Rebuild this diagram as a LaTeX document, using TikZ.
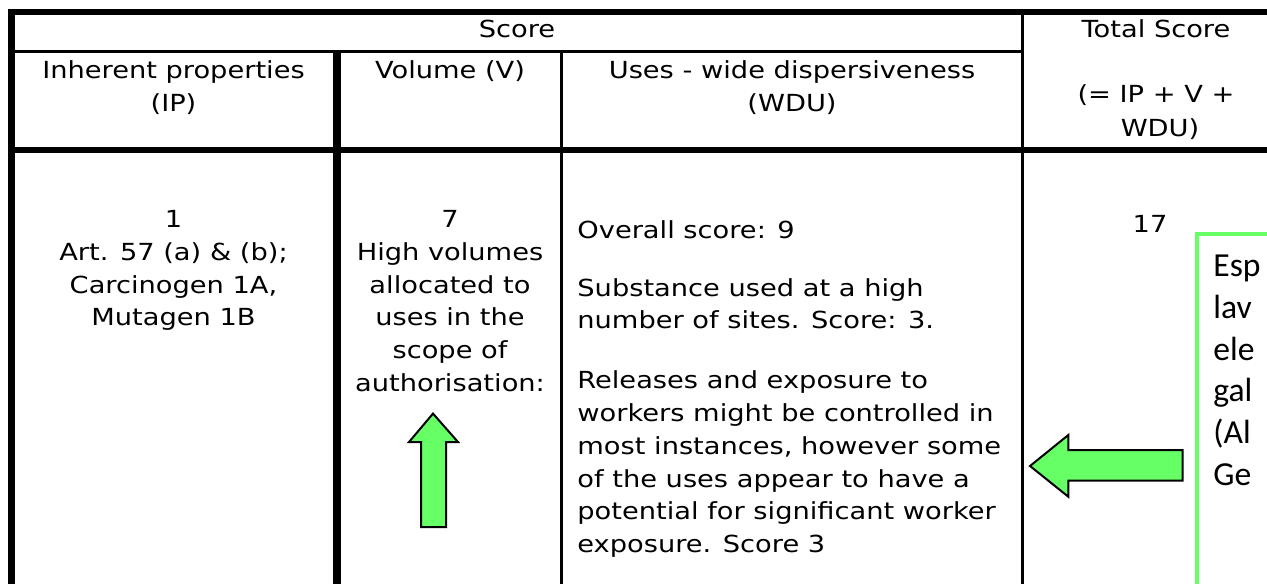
\documentclass[tikz,border=0pt]{standalone}
\usepackage{fontspec}
\newfontfamily\tabfont[FakeStretch=1.16]{DejaVu Sans}
\newfontfamily\notefont{Carlito}
\newcommand\tabtext{\tabfont\fontsize{11.75pt}{16.35pt}\selectfont}
\newcommand\notetext{\notefont\fontsize{16.8pt}{20.9pt}\selectfont}
\definecolor{notegreen}{HTML}{66FF66}
\tikzset{
  thickrule/.style={line width=3pt},
  heavyrule/.style={line width=4pt},
  thinrule/.style={line width=1.5pt},
  cell/.style={font=\tabtext, inner sep=0pt, anchor=base, text=black},
  lcell/.style={cell, anchor=base west},
  noteline/.style={font=\notetext, inner sep=0pt, anchor=base west, text=black},
  notebox/.style={draw=notegreen, line width=2pt, fill=white},
  fatarrow/.style={fill=notegreen, draw=black, line width=1pt, line join=miter}
}
\begin{document}
\begin{tikzpicture}[x=0.5pt,y=-0.5pt]
\useasboundingbox (0,0) rectangle (1267,583);
\clip (0,0) rectangle (1267,583);
\fill[white] (0,0) rectangle (1267,583);

% table frame and rules
\draw[thickrule] (8,12) -- (1300,12);
\draw[line width=3.5pt] (11.5,9) -- (11.5,600);
\draw[thinrule] (11.5,51.5) -- (1022.7,51.5);
\draw[thickrule] (11.5,150) -- (1300,150);
\draw[heavyrule] (336.5,51.5) -- (336.5,600);
\draw[thinrule] (561.7,51.5) -- (561.7,600);
\draw[thinrule] (1022.7,12) -- (1022.7,600);

% header
\node[cell] (score) at (517,38) {Score};
\node[cell] (total) at (1156,38) {Total Score};
\node[cell] (ip1) at (173.5,79) {Inherent properties};
\node[cell] (ip2) at (173.5,112) {(IP)};
\node[cell] (vol) at (450,79) {Volume (V)};
\node[cell] (wdu1) at (792,79) {Uses - wide dispersiveness};
\node[cell] (wdu2) at (792,112) {(WDU)};
\node[cell] (sum1) at (1156,103) {(= IP + V +};
\node[cell] (sum2) at (1160,136) {WDU)};

% inherent properties cell
\node[cell] (ipa) at (173.5,227) {1};
\node[cell] (ipb) at (173.5,260) {Art. 57 (a) \& (b);};
\node[cell] (ipc) at (173.5,293) {Carcinogen 1A,};
\node[cell] (ipd) at (173.5,325.5) {Mutagen 1B};

% volume cell
\node[cell] (va) at (450,227) {7};
\node[cell] (vb) at (450,260) {High volumes};
\node[cell] (vc) at (450,293) {allocated to};
\node[cell] (vd) at (450,325.5) {uses in the};
\node[cell] (ve) at (450,358) {scope of};
\node[cell] (vf) at (450,391) {authorisation:};

% wide dispersive use cell
\node[lcell] (wa) at (577,238) {Overall score: 9};
\node[lcell] (wb) at (577,296) {Substance used at a high};
\node[lcell] (wc) at (577,328.5) {number of sites. Score: 3.};
\node[lcell] (wd) at (577,388) {Releases and exposure to};
\node[lcell] (we) at (577,421) {workers might be controlled in};
\node[lcell] (wf) at (577,454) {most instances, however some};
\node[lcell] (wg) at (577,487) {of the uses appear to have a};
\node[lcell] (wh) at (577,519.5) {potential for significant worker};
\node[lcell] (wi) at (577,552) {exposure. Score 3};

% total
\node[cell] (tot) at (1150,232) {17};

% up arrow in the volume column
\draw[fatarrow] (433,413.6) -- (458,442) -- (446,442) -- (446,527)
  -- (421,527) -- (421,442) -- (409,442) -- cycle;

% annotation box and left arrow
\draw[notebox] (1197,233.5) rectangle (1320,620);
\node[noteline] (n1) at (1213,276.7) {Esp};
\node[noteline] (n2) at (1213,318) {lav};
\node[noteline] (n3) at (1213,360) {ele};
\node[noteline] (n4) at (1213,401) {gal};
\node[noteline] (n5) at (1213,443) {(Al};
\node[noteline] (n6) at (1213,485) {Ge};
\draw[fatarrow] (1030,466) -- (1068.3,435) -- (1068.3,450) -- (1182.7,450)
  -- (1182.7,480.7) -- (1068.3,480.7) -- (1068.3,496.7) -- cycle;
\end{tikzpicture}
\end{document}
